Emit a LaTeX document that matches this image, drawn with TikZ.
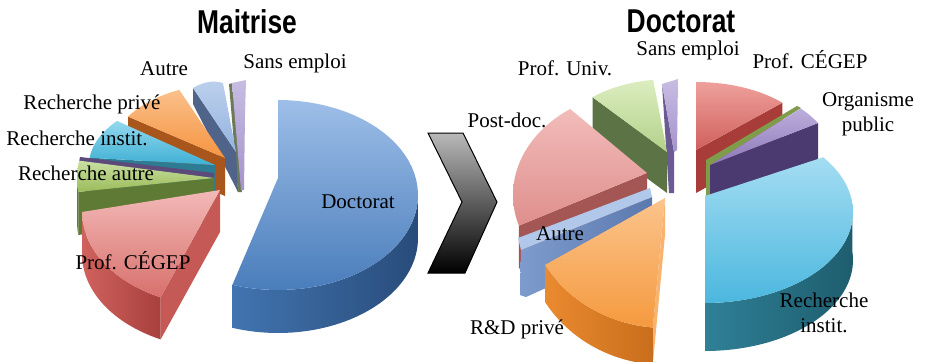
\documentclass[tikz,border=0pt]{standalone}
\usepackage{graphicx}
\usepackage{fontspec}
\setmainfont{Liberation Serif}
\newfontfamily\titlefont{Liberation Sans}
\newcommand\pieset[5]{\def\pcx{#1}\def\pcy{#2}\def\prx{#3}\def\pry{#4}\def\ph{#5}}
\newcommand\pietop[5]{\path[#5] (#1,#2) -- plot[domain=#3:#4,samples=50] ({\pcx+\prx*cos(\x)},{\pcy-\pry*sin(\x)}) -- cycle;}
\newcommand\piewall[3]{\path[#3] plot[domain=#1:#2,samples=50] ({\pcx+\prx*cos(\x)},{\pcy-\pry*sin(\x)}) -- plot[domain=#2:#1,samples=50] ({\pcx+\prx*cos(\x)},{\pcy-\pry*sin(\x)+\ph}) -- cycle;}
\newcommand\pieface[4]{\path[#4] (#1,#2) -- ({\pcx+\prx*cos(#3)},{\pcy-\pry*sin(#3)}) -- ++(0,\ph) -- (#1,{#2+\ph}) -- cycle;}
% colours
\definecolor{docA}{HTML}{9DBEE8}\definecolor{docB}{HTML}{4A7DBB}
\definecolor{docWA}{HTML}{4274B0}\definecolor{docWB}{HTML}{284C7A}
\definecolor{cgA}{HTML}{F2B9B7}\definecolor{cgB}{HTML}{D8706C}
\definecolor{cgWA}{HTML}{D0625E}\definecolor{cgWB}{HTML}{A8403D}
\definecolor{cgF}{HTML}{C45955}
\definecolor{raA}{HTML}{C9E0A3}\definecolor{raB}{HTML}{9BBB59}\definecolor{raF}{HTML}{5E7A35}
\definecolor{purp}{HTML}{5C4A7A}
\definecolor{riA}{HTML}{93D8EE}\definecolor{riB}{HTML}{3FB0D4}\definecolor{riF}{HTML}{2E7C93}
\definecolor{rpA}{HTML}{FAC08A}\definecolor{rpB}{HTML}{F59440}\definecolor{rpF}{HTML}{A8561C}
\definecolor{auA}{HTML}{BCD0EC}\definecolor{auB}{HTML}{94B3E0}\definecolor{auF}{HTML}{4F6488}
\definecolor{seA}{HTML}{C8BCE2}\definecolor{seB}{HTML}{A493CC}\definecolor{seF}{HTML}{6C7A5A}
\definecolor{RriA}{HTML}{A4DDF2}\definecolor{RriB}{HTML}{4BB7DE}
\definecolor{RriWA}{HTML}{2F8097}\definecolor{RriWB}{HTML}{1E5D6E}
\definecolor{opA}{HTML}{BCAEDB}\definecolor{opB}{HTML}{8C78BA}\definecolor{opF}{HTML}{4A3A70}
\definecolor{gsl}{HTML}{7E9C4A}
\definecolor{RcgA}{HTML}{EEA09C}\definecolor{RcgB}{HTML}{D0605C}\definecolor{RcgF}{HTML}{A83C38}
\definecolor{RseF}{HTML}{6A5B93}
\definecolor{puA}{HTML}{DCEDC0}\definecolor{puB}{HTML}{B3D18A}\definecolor{puF}{HTML}{5C7445}
\definecolor{pdA}{HTML}{F2BCBA}\definecolor{pdB}{HTML}{DE8F8C}\definecolor{pdF}{HTML}{A45654}
\definecolor{RauT}{HTML}{B2C8EA}\definecolor{RauA}{HTML}{7D9BCC}\definecolor{RauB}{HTML}{5B79AE}
\definecolor{rdA}{HTML}{FBC48C}\definecolor{rdB}{HTML}{F59A3F}
\definecolor{rdWA}{HTML}{EA8A30}\definecolor{rdWB}{HTML}{C96E1C}\definecolor{rdF}{HTML}{F7B470}
\begin{document}
\begin{tikzpicture}[x=1pt,y=-1pt,
  lbl/.style={font=\fontsize{21}{25}\selectfont, inner sep=0pt, text=black, align=center},
  ttl/.style={font=\titlefont\bfseries\fontsize{33}{36}\selectfont, inner sep=0pt}]
\useasboundingbox (0,0) rectangle (925,361);
\fill[white] (0,0) rectangle (925,361);

% ================= LEFT PIE (Maitrise) =================
% Sans emploi
\path[fill=seF] (229,84) -- (233,83) -- (242,192) -- (238,192) -- cycle;
\path[top color=seA,bottom color=seB] (232,83) -- (246,80) -- (245,115) -- (244,190) -- (241,190) -- cycle;
% Autre
\path[fill=auF] (193,88) -- (236,152) -- (238,192) -- (193,104) -- cycle;
\path[top color=auA,bottom color=auB] (193,88) .. controls (203,82) and (213,80) .. (223,83) -- (236,152) -- cycle;
% Recherche prive
\pieset{225}{158}{117}{74}{38}
\pieface{225}{158}{146}{fill=rpF}
\pietop{225}{158}{113}{146}{top color=rpA,bottom color=rpB}
% Recherche instit.
\pieset{215}{165}{126}{70}{40}
\pieface{215}{165}{174}{fill=riF}
\pietop{215}{165}{141}{174}{top color=riA,bottom color=riB}
% thin purple sliver
\path[fill=purp] (80,157) -- (214,173) -- (214,178) -- (79,162) -- cycle;
% Recherche autre
\pieset{214}{178}{137}{100}{43}
\piewall{180}{188}{fill=raF}
\pieface{214}{178}{188}{fill=raF}
\pietop{214}{178}{170}{188}{top color=raA,bottom color=raB}
% Prof. CEGEP
\pieset{222}{212}{140}{95}{42}
\piewall{180}{244}{left color=cgWA,right color=cgWB}
\pieface{220}{190}{244}{fill=cgF}
\pietop{220}{190}{180}{244}{top color=cgA,bottom color=cgB}
% Doctorat
\pieset{278}{195}{140}{95}{43}
\piewall{251}{362}{left color=docWA,right color=docWB}
\pietop{278}{178}{251}{450}{top color=docA,bottom color=docB}

% ================= CHEVRON =================
\shade[top color=gray!55, bottom color=black, draw=black, line width=1pt, line join=miter]
  (428,133) -- (463,133) -- (497,202) -- (465,273) -- (428,273) -- (462,202) -- cycle;

% ================= RIGHT PIE (Doctorat) =================
% Sans emploi
\path[fill=RseF] (662,84) -- (674,152) -- (674,193) -- (669,193) -- cycle;
\path[top color=seA,bottom color=seB] (662,84) -- (678,79) -- (677,150) -- (674,152) -- cycle;
% Prof. Univ.
\pieset{667}{152}{113.5}{72.6}{41}
\pieface{667}{152}{131}{fill=puF}
\pietop{667}{152}{97}{131}{top color=puA,bottom color=puB}
% Prof. CEGEP
\pieset{696}{150}{120}{68}{43}
\pieface{696}{150}{44}{fill=RcgF}
\pietop{696}{150}{44}{90}{top color=RcgA,bottom color=RcgB}
% green sliver
\path[fill=gsl] (706,160) -- (797,106) -- (801,108) -- (710,165) -- (710,198) -- (706,198) -- cycle;
% Organisme public
\pieset{710}{165}{126}{81.4}{40}
\pieface{710}{165}{31}{fill=opF}
\pietop{710}{165}{31}{44}{top color=opA,bottom color=opB}
% Post-doc.
\pieset{647}{195}{134}{105}{43}
\pieface{647}{173}{197}{fill=pdF}
\pietop{647}{173}{125}{197}{top color=pdA,bottom color=pdB}
% Autre
\path[left color=RauA,right color=RauB] (521,250) -- (652,197) -- (652,240) -- (526,297) -- (520,295) -- cycle;
\path[fill=RauT] (518,238) -- (650,188) -- (652,197) -- (521,250) -- cycle;
% R&D prive
\pieset{665}{198}{140}{130}{37}
\pieface{665}{198}{265}{fill=rdF}
\piewall{211}{265}{left color=rdWA,right color=rdWB}
\pietop{665}{198}{211}{265}{top color=rdA,bottom color=rdB}
% Recherche instit.
\pieset{705}{212}{148}{91}{48}
\piewall{-90}{5}{left color=RriWA,right color=RriWB}
\pietop{705}{196}{-90}{37}{top color=RriA,bottom color=RriB}

% ================= TEXTS =================
\node[ttl] (t-mai) at (247,22) {\scalebox{0.8}[1]{Maitrise}};
\node[ttl] (t-doc) at (681,21) {\scalebox{0.8}[1]{Doctorat}};

\node[lbl] (l-se) at (295,63) {Sans emploi};
\node[lbl] (l-au) at (164,69) {Autre};
\node[lbl] (l-rp) at (92,104) {Recherche privé};
\node[lbl] (l-ri) at (77,138) {Recherche instit.};
\node[lbl] (l-ra) at (86,173) {Recherche autre};
\node[lbl] (l-cg) at (133,261) {Prof. CÉGEP};
\node[lbl] (l-doc) at (358,202) {Doctorat};

\node[lbl] (r-se) at (688,50) {Sans emploi};
\node[lbl] (r-cg) at (810,60) {Prof. CÉGEP};
\node[lbl] (r-pu) at (565,68) {Prof. Univ.};
\node[lbl] (r-op) at (868,114) {Organisme\\public};
\node[lbl] (r-pd) at (507,120) {Post-doc.};
\node[lbl] (r-au) at (560,234) {Autre};
\node[lbl] (r-rd) at (517,329) {R\&D privé};
\node[lbl] (r-ri) at (824,313) {Recherche\\instit.};
\end{tikzpicture}
\end{document}
